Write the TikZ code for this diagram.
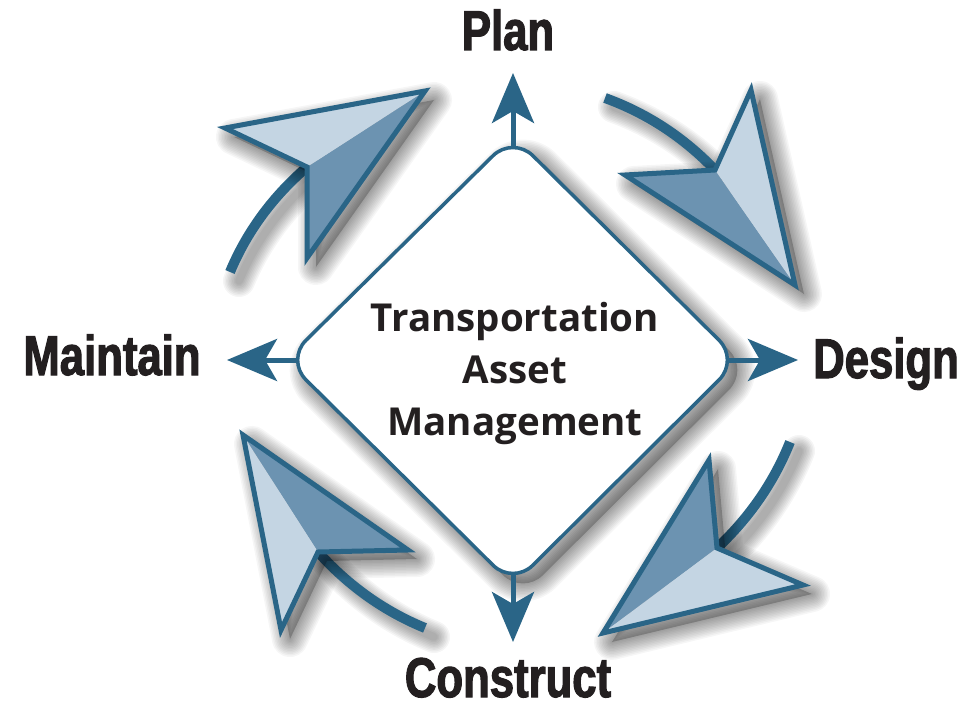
\documentclass[tikz,border=0pt]{standalone}
\usepackage{fontspec}
\setmainfont{Open Sans}
\newfontfamily\labfont{Liberation Sans}[BoldFeatures={FakeStretch=0.78,FakeBold=2}]
\usetikzlibrary{arrows.meta}
\definecolor{dkblue}{HTML}{2A6587}
\definecolor{ltblue}{HTML}{C4D5E3}
\definecolor{mdblue}{HTML}{6C93B1}
\definecolor{txt}{HTML}{231F20}
\newcommand{\sshadow}[2][9]{%
  \begin{scope}[shift={(#1,#1)}]
    \fill[black,opacity=0.22] #2;
    \foreach \w in {3,6,9,12,15,18,21,24,27,30,33,36}{\draw[black,opacity=0.035,line width=\w pt,line join=round] #2;}
  \end{scope}}
\newcommand{\cshadow}[2][9]{%
  \begin{scope}[shift={(#1,#1)}]
    \foreach \w in {8,11,14,17,20,23,26,29,32}{\draw[black,opacity=0.04,line width=\w pt,line cap=round] #2;}
  \end{scope}}
\begin{document}
\begin{tikzpicture}[x=1pt,y=-1pt,
  curvearrow/.style={draw=dkblue,line width=10pt},
  headline/.style={draw=dkblue,line width=5pt,line join=miter,miter limit=20},
  smallarrow/.style={draw=dkblue,line width=5pt,-{Stealth[length=50pt,width=42pt,inset=12pt]}},
  lab/.style={font=\labfont\bfseries\fontsize{56}{60}\selectfont,text=txt,inner sep=0pt,anchor=base},
  centertext/.style={font=\fontsize{38.5}{52}\selectfont\bfseries,align=center,text=txt,inner sep=0pt}]
\useasboundingbox (0,0) rectangle (974,708);
\fill[white] (0,0) rectangle (974,708);

% ---------- curved strokes ----------
\cshadow{(230,272) .. controls (246.7,232) and (272.3,197) .. (307,167)}
\cshadow{(605,98) .. controls (647,113.3) and (683.7,137.3) .. (715,170)}
\cshadow{(790,442) .. controls (774,482) and (749.7,517.3) .. (717,548)}
\cshadow{(425,628) .. controls (384.3,611.3) and (348.7,586) .. (318,552)}
\draw[curvearrow] (230,272) .. controls (246.7,232) and (272.3,197) .. (307,167);
\draw[curvearrow] (605,98) .. controls (647,113.3) and (683.7,137.3) .. (715,170);
\draw[curvearrow] (790,442) .. controls (774,482) and (749.7,517.3) .. (717,548);
\draw[curvearrow] (425,628) .. controls (384.3,611.3) and (348.7,586) .. (318,552);

% ---------- big arrow heads ----------
% top left
\sshadow{(225,128) -- (425,91) -- (307,258) -- (307,167) -- cycle}
\fill[mdblue] (307,167) -- (425,91) -- (307,258) -- cycle;
\fill[ltblue] (225,128) -- (425,91) -- (307,167) -- cycle;
\draw[headline] (225,128) -- (425,91) -- (307,258) -- (307,167) -- cycle;
% top right
\sshadow{(751,90) -- (795,285) -- (625,175) -- (715,170) -- cycle}
\fill[mdblue] (625,175) -- (715,170) -- (795,285) -- cycle;
\fill[ltblue] (751,90) -- (795,285) -- (715,170) -- cycle;
\draw[headline] (751,90) -- (795,285) -- (625,175) -- (715,170) -- cycle;
% bottom right
\sshadow{(709,460) -- (717,548) -- (803,585) -- (603,633) -- cycle}
\fill[mdblue] (709,460) -- (717,548) -- (603,633) -- cycle;
\fill[ltblue] (717,548) -- (803,585) -- (603,633) -- cycle;
\draw[headline] (709,460) -- (717,548) -- (803,585) -- (603,633) -- cycle;
% bottom left
\sshadow{(243,435) -- (408,550) -- (318,552) -- (281,630) -- cycle}
\fill[mdblue] (243,435) -- (408,550) -- (318,552) -- cycle;
\fill[ltblue] (243,435) -- (318,552) -- (281,630) -- cycle;
\draw[headline] (243,435) -- (408,550) -- (318,552) -- (281,630) -- cycle;

% ---------- diamond ----------
\sshadow[10]{[rounded corners=28pt] (626,248) -- (739,360) -- (513,585) -- (286,360) -- (513,136) -- cycle}
\draw[dkblue,fill=white,line width=3.5pt,rounded corners=28pt] (626,248) -- (739,360) -- (513,585) -- (286,360) -- (513,136) -- cycle;

\coordinate (aT) at (513,148);
\coordinate (aR) at (727,360);
\coordinate (aB) at (513,574);
\coordinate (aL) at (298,360);
\coordinate (tT) at (513,73);
\coordinate (tR) at (798,360);
\coordinate (tB) at (513,642);
\coordinate (tL) at (227,360);

\draw[smallarrow] (aT) -- (tT);
\draw[smallarrow] (aR) -- (tR);
\draw[smallarrow] (aB) -- (tB);
\draw[smallarrow] (aL) -- (tL);

\node[centertext] (tam) at (515,373) {Transportation\\Asset\\Management};

\node[lab] (plan) at (508,50) {Plan};
\node[lab] (design) at (886,378) {Design};
\node[lab] (construct) at (508,697) {Construct};
\node[lab] (maintain) at (112,375) {Maintain};
\end{tikzpicture}
\end{document}
